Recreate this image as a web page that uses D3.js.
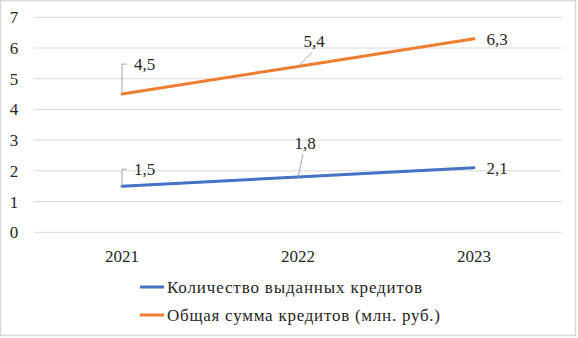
<!DOCTYPE html>
<html><head><meta charset="utf-8">
<script src="https://cdn.jsdelivr.net/npm/d3@7/dist/d3.min.js"></script>
<style>body{margin:0;background:#fff}svg{display:block}
svg text{font-family:"Liberation Serif","Times New Roman",Tinos,"DejaVu Serif",serif;}</style>
</head><body>
<script>
const categories = ["2021", "2022", "2023"];
const seriesNames = ["Количество выданных кредитов", "Общая сумма кредитов (млн. руб.)"];
const countValues = [1.5, 1.8, 2.1];
const sumValues = [4.5, 5.4, 6.3];
const yTicks = [0, 1, 2, 3, 4, 5, 6, 7];
const colors = ["#4472C4", "#ED7D31"];

const W = 578, H = 338;
const svg = d3.select("body").append("svg").attr("width", W).attr("height", H);
svg.append("rect").attr("x", 0.5).attr("y", 0.5).attr("width", W - 3).attr("height", H - 3)
  .attr("fill", "#fff").attr("stroke", "#d9d9d9").attr("stroke-width", 1.5);

const x = d3.scaleBand().domain(categories).range([34, 562]);
const y = d3.scaleLinear().domain([0, 7]).range([232.3, 17.3]);
const cx = c => x(c) + x.bandwidth() / 2;

// gridlines
svg.append("g").selectAll("line").data(yTicks).join("line")
  .attr("x1", 34).attr("x2", 562)
  .attr("y1", d => y(d)).attr("y2", d => y(d))
  .attr("stroke", "#d9d9d9").attr("stroke-width", 1);

// y labels
svg.append("g").selectAll("text").data(yTicks).join("text")
  .attr("x", 14).attr("y", d => y(d)).attr("dy", "0.35em")
  .attr("text-anchor", "middle").attr("font-size", 17)
  .attr("fill", "#262626").text(d => d);

// x labels
svg.append("g").selectAll("text").data(categories).join("text")
  .attr("x", d => cx(d)).attr("y", 256).attr("dy", "0.35em")
  .attr("text-anchor", "middle").attr("font-size", 17)
  .attr("fill", "#262626").text(d => d);

const series = [countValues, sumValues];
const line = d3.line().x((d, i) => cx(categories[i])).y(d => y(d));
series.forEach((vals, s) => {
  svg.append("path").datum(vals).attr("d", line)
    .attr("fill", "none").attr("stroke", colors[s]).attr("stroke-width", 3)
    .attr("stroke-linecap", "round");
});

// data labels with leader lines
function label(s, i, dx, dy, leader) {
  const v = series[s][i];
  const px = cx(categories[i]), py = y(v);
  const tx = px + dx, ty = py + dy;
  if (leader === "elbow") {
    svg.append("path").attr("d", `M${px},${py} L${px},${ty} L${px + 5},${ty}`)
      .attr("fill", "none").attr("stroke", "#a6a6a6").attr("stroke-width", 1);
  } else if (leader === "diag") {
    svg.append("line").attr("x1", px).attr("y1", py)
      .attr("x2", tx - 2).attr("y2", ty + 11)
      .attr("stroke", "#a6a6a6").attr("stroke-width", 1);
  }
  svg.append("text").attr("x", tx).attr("y", ty).attr("dy", "0.35em")
    .attr("text-anchor", leader === "elbow" ? "start" : "middle")
    .attr("font-size", 17).attr("fill", "#262626")
    .text(String(v).replace(".", ","));
}
label(1, 0, 12, -30, "elbow");
label(0, 0, 12, -17, "elbow");
label(1, 1, 16, -25, "diag");
label(0, 1, 7, -34, "diag");
label(1, 2, 23, 0, "none");
label(0, 2, 23, 0, "none");

// legend
const legendWidths = [255, 273];
const leg = svg.append("g");
seriesNames.forEach((n, s) => {
  const ly = 287 + s * 28;
  leg.append("line").attr("x1", 140).attr("x2", 164).attr("y1", ly).attr("y2", ly)
    .attr("stroke", colors[s]).attr("stroke-width", 3);
  leg.append("text").attr("x", 167).attr("y", ly).attr("dy", "0.35em")
    .attr("font-size", 17).attr("fill", "#262626")
    .attr("textLength", legendWidths[s]).attr("lengthAdjust", "spacing").text(n);
});
</script>
</body></html>
